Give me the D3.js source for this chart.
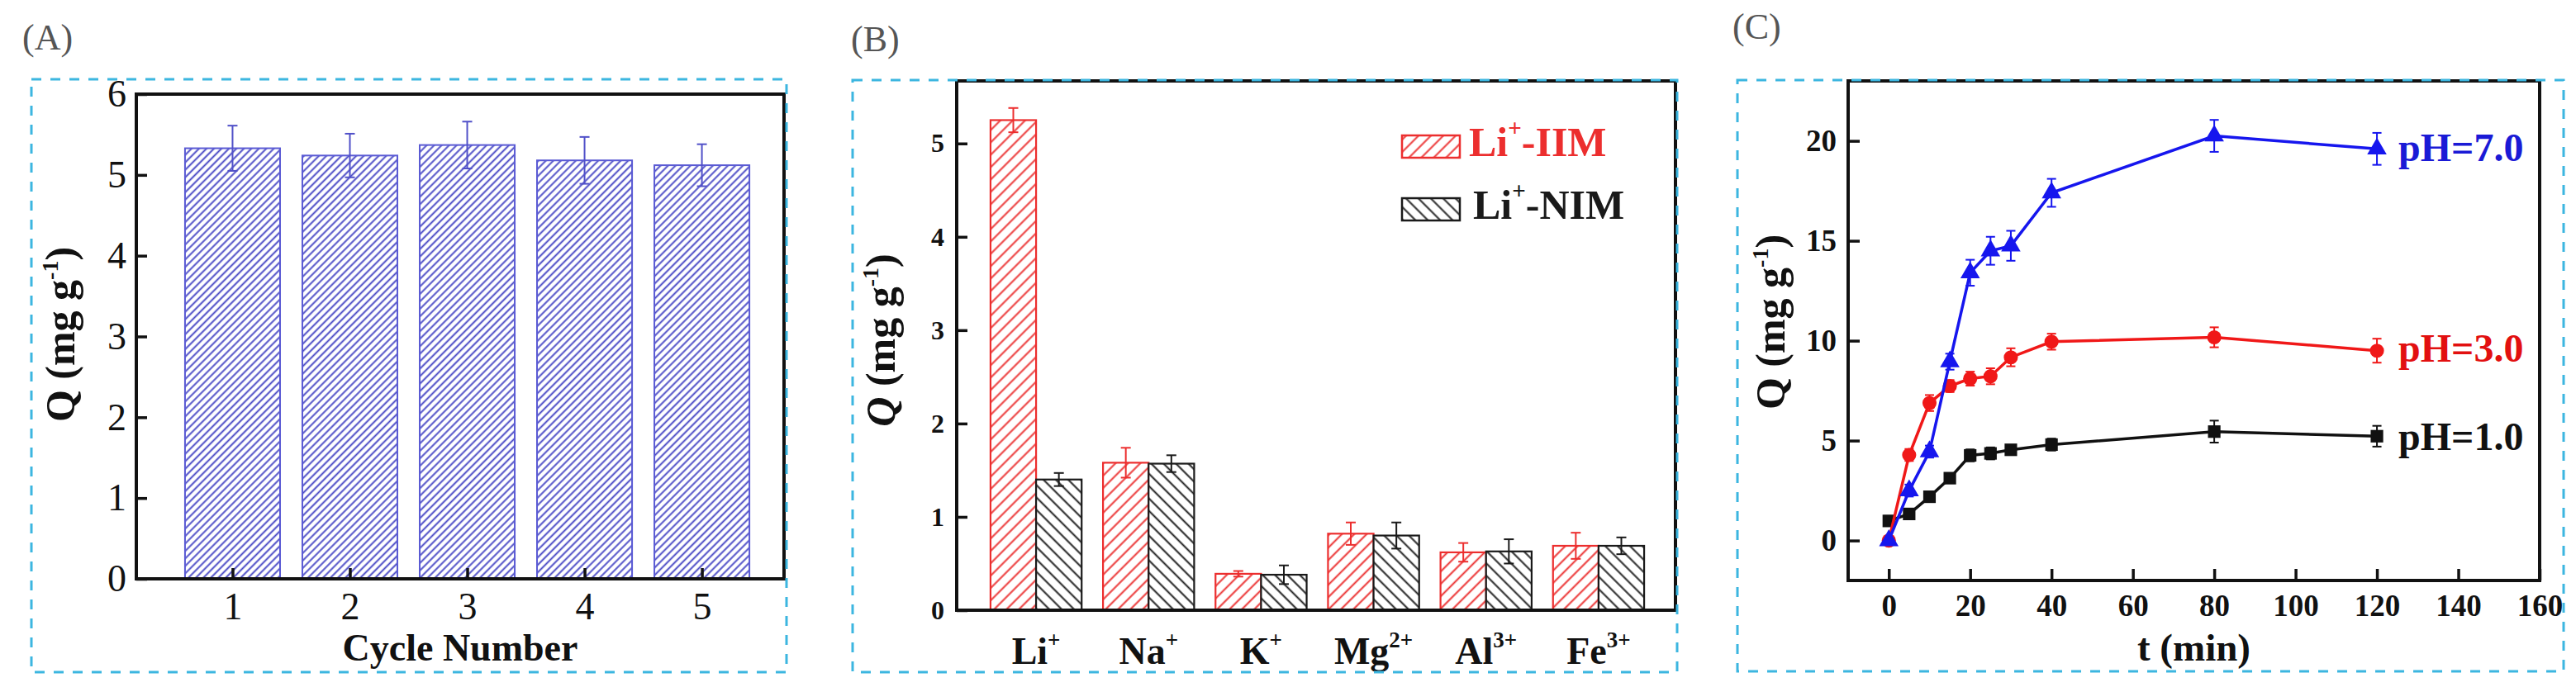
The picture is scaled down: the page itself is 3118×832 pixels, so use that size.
<!DOCTYPE html>
<html>
<head>
<meta charset="utf-8">
<script src="https://cdn.jsdelivr.net/npm/d3@7"></script>
<style>
  body { margin: 0; background: #fff; }
  text { font-family: "Liberation Serif", "Times New Roman", serif; }
</style>
</head>
<body>
<svg id="fig" width="3118" height="832"></svg>
<script>
// ---------- data ----------

// (A) uptake over repeated adsorption cycles
const cycles = [1, 2, 3, 4, 5];
const cycleQ = [5.33, 5.24, 5.37, 5.18, 5.12];
const cycleErr = [0.28, 0.27, 0.29, 0.29, 0.26];
const cycleTicksY = [0, 1, 2, 3, 4, 5, 6];

// (B) competitive adsorption, imprinted vs non imprinted membrane
const ions = ['Li', 'Na', 'K', 'Mg', 'Al', 'Fe'];
const ionCharges = ['+', '+', '+', '2+', '3+', '3+'];
const membranes = ['IIM', 'NIM'];
const iimQ = [5.25, 1.58, 0.39, 0.82, 0.62, 0.69];
const iimErr = [0.13, 0.16, 0.03, 0.12, 0.10, 0.14];
const nimQ = [1.40, 1.57, 0.38, 0.80, 0.63, 0.69];
const nimErr = [0.07, 0.09, 0.10, 0.14, 0.13, 0.09];
const ionTicksY = [0, 1, 2, 3, 4, 5];

// (C) kinetics at three pH values
const times = [0, 5, 10, 15, 20, 25, 30, 40, 80, 120];
const qPH1 = [0.98, 1.33, 2.19, 3.12, 4.26, 4.36, 4.54, 4.80, 5.45, 5.22];
const errPH1 = [0.25, 0.15, 0.15, 0.15, 0.30, 0.30, 0.20, 0.30, 0.55, 0.52];
const qPH3 = [0.0, 4.28, 6.88, 7.73, 8.10, 8.22, 9.17, 9.95, 10.17, 9.50];
const errPH3 = [0.10, 0.30, 0.40, 0.30, 0.35, 0.40, 0.45, 0.40, 0.50, 0.60];
const qPH7 = [0.0, 2.50, 4.45, 8.95, 13.4, 14.5, 14.75, 17.4, 20.25, 19.6];
const errPH7 = [0.10, 0.30, 0.30, 0.40, 0.65, 0.70, 0.75, 0.70, 0.80, 0.80];
const phLabels = ['pH=1.0', 'pH=3.0', 'pH=7.0'];
const timeTicks = [0, 20, 40, 60, 80, 100, 120, 140, 160];
const kineticTicksY = [0, 5, 10, 15, 20];

// ---------- shared helpers ----------

const svg = d3.select('#fig');
svg.append('rect').attr('width', 3118).attr('height', 832).attr('fill', '#fff');
const defs = svg.append('defs');

/** hatch fill: parallel lines, rotated so 45 gives "/" and -45 gives "\" */
function hatch(id, color, gap, angle, width) {
    let p = defs.append('pattern')
        .attr('id', id)
        .attr('patternUnits', 'userSpaceOnUse')
        .attr('width', gap).attr('height', gap)
        .attr('patternTransform', `rotate(${angle})`);
    p.append('rect').attr('width', gap).attr('height', gap).attr('fill', '#fff');
    p.append('line')
        .attr('x1', gap / 2).attr('x2', gap / 2)
        .attr('y1', -1).attr('y2', gap + 1)
        .attr('stroke', color).attr('stroke-width', width);
}
hatch('hatchBlue', '#4646c4', 6.4, 45, 1.9);
hatch('hatchRed', '#ec3434', 10.6, 45, 2);
hatch('hatchBlack', '#222', 10.6, -45, 2);

/** cyan dashed outline round a panel */
function dashedBox(b) {
    svg.append('rect')
        .attr('x', b[0]).attr('y', b[1])
        .attr('width', b[2] - b[0]).attr('height', b[3] - b[1])
        .attr('fill', 'none')
        .attr('stroke', '#3cb6e0')
        .attr('stroke-width', 3)
        .attr('stroke-dasharray', '12 11');
}

function frame(f) {
    svg.append('rect')
        .attr('x', f[0]).attr('y', f[1])
        .attr('width', f[2] - f[0]).attr('height', f[3] - f[1])
        .attr('fill', 'none')
        .attr('stroke', '#111')
        .attr('stroke-width', 4);
}

function panelLetter(txt, x, y) {
    svg.append('text')
        .attr('x', x).attr('y', y)
        .attr('font-size', 44)
        .attr('fill', '#555')
        .text(txt);
}

/** style a d3 axis group: drop the domain path, thick inward ticks, serif labels */
function styleAxis(g, size, bold) {
    g.select('.domain').remove();
    g.attr('font-family', null).attr('font-size', null);
    g.selectAll('.tick line').attr('stroke', '#111').attr('stroke-width', 3.5);
    g.selectAll('.tick text')
        .attr('fill', '#111')
        .attr('font-size', size)
        .attr('font-weight', bold ? 'bold' : 'normal');
}

/** rotated "Q (mg g-1)" label */
function yLabel(x, y, italicQ) {
    let t = svg.append('text')
        .attr('transform', `translate(${x},${y}) rotate(-90)`)
        .attr('text-anchor', 'middle')
        .attr('font-size', 50)
        .attr('font-weight', 'bold')
        .attr('fill', '#111');
    t.append('tspan').attr('font-style', italicQ ? 'italic' : 'normal').text('Q');
    t.append('tspan').text(' (mg g');
    t.append('tspan').attr('font-size', 28).attr('dy', -20).text('-1');
    t.append('tspan').attr('dy', 20).text(')');
}

function errorBars(g, data, color, cap, width) {
    let eb = g.selectAll(null)
        .data(data)
        .enter().append('g')
        .attr('stroke', color)
        .attr('stroke-width', width);
    eb.append('line')
        .attr('x1', d => d.x).attr('x2', d => d.x)
        .attr('y1', d => d.top).attr('y2', d => d.bottom);
    eb.append('line')
        .attr('x1', d => d.x - cap / 2).attr('x2', d => d.x + cap / 2)
        .attr('y1', d => d.top).attr('y2', d => d.top);
    eb.append('line')
        .attr('x1', d => d.x - cap / 2).attr('x2', d => d.x + cap / 2)
        .attr('y1', d => d.bottom).attr('y2', d => d.bottom);
}

// ---------- (A) ----------
function drawCycles() {
    let fr = [165, 114, 949, 701];
    let x = d3.scaleLinear().domain([0.18, 5.7]).range([fr[0], fr[2]]);
    let y = d3.scaleLinear().domain([0, 6]).range([fr[3], fr[1]]);
    let bw = x(0.905) - x(0.095);
    let g = svg.append('g');
    let rows = cycles.map((c, i) => ({ c, v: cycleQ[i], e: cycleErr[i] }));

    g.selectAll('rect.bar')
        .data(rows)
        .enter().append('rect')
        .attr('class', 'bar')
        .attr('x', d => x(d.c) - bw / 2)
        .attr('y', d => y(d.v))
        .attr('width', bw)
        .attr('height', d => y(0) - y(d.v))
        .attr('fill', 'url(#hatchBlue)')
        .attr('stroke', '#5a5ad4')
        .attr('stroke-width', 2);

    errorBars(g, rows.map(d => ({ x: x(d.c), top: y(d.v + d.e), bottom: y(d.v - d.e) })),
        '#5050c8', 12, 2);

    g.append('g')
        .attr('transform', `translate(${fr[0]},0)`)
        .call(d3.axisLeft(y).tickValues(cycleTicksY).tickFormat(d3.format('d')).tickSize(-13).tickPadding(12))
        .call(a => styleAxis(a, 46, false));
    g.append('g')
        .attr('transform', `translate(0,${fr[3]})`)
        .call(d3.axisBottom(x).tickValues(cycles).tickFormat(d3.format('d')).tickSize(-13).tickPadding(16))
        .call(a => styleAxis(a, 46, false));

    frame(fr);
    dashedBox([38, 96, 952, 814]);
    panelLetter('(A)', 27, 60);
    yLabel(90, 405, false);
    svg.append('text')
        .attr('x', (fr[0] + fr[2]) / 2).attr('y', 800)
        .attr('text-anchor', 'middle')
        .attr('font-size', 46).attr('font-weight', 'bold')
        .attr('fill', '#111')
        .text('Cycle Number');
}

// ---------- (B) ----------
function drawSelectivity() {
    let fr = [1158, 98, 2028, 739];
    let x0 = d3.scaleBand().domain(ions).range([1186, 2003]).paddingInner(0.19).paddingOuter(0.095);
    let x1 = d3.scaleBand().domain(membranes).range([0, x0.bandwidth()]);
    let y = d3.scaleLinear().domain([0, 5.67]).range([fr[3], fr[1]]);
    let g = svg.append('g');

    let series = [
        { key: 'IIM', q: iimQ, err: iimErr, fill: 'url(#hatchRed)', color: '#ec2e2e' },
        { key: 'NIM', q: nimQ, err: nimErr, fill: 'url(#hatchBlack)', color: '#1a1a1a' },
    ];

    series.forEach(s => {
        let rows = ions.map((ion, i) => ({ ion, v: s.q[i], e: s.err[i] }));
        g.selectAll(null)
            .data(rows)
            .enter().append('rect')
            .attr('x', d => x0(d.ion) + x1(s.key))
            .attr('y', d => y(d.v))
            .attr('width', x1.bandwidth())
            .attr('height', d => y(0) - y(d.v))
            .attr('fill', s.fill)
            .attr('stroke', s.color)
            .attr('stroke-width', 2.2);
        errorBars(g, rows.map(d => ({
            x: x0(d.ion) + x1(s.key) + x1.bandwidth() / 2,
            top: y(d.v + d.e), bottom: y(d.v - d.e)
        })), s.color, 12, 2);
    });

    g.append('g')
        .attr('transform', `translate(${fr[0]},0)`)
        .call(d3.axisLeft(y).tickValues(ionTicksY).tickFormat(d3.format('d')).tickSize(-13).tickPadding(15))
        .call(a => styleAxis(a, 32, true));

    // category labels with charge as superscript
    let labels = svg.append('g').selectAll('text')
        .data(ions.map((ion, i) => ({ ion, charge: ionCharges[i] })))
        .enter().append('text')
        .attr('x', d => x0(d.ion) + x0.bandwidth() / 2)
        .attr('y', 804)
        .attr('text-anchor', 'middle')
        .attr('font-size', 46).attr('font-weight', 'bold')
        .attr('fill', '#111');
    labels.append('tspan').text(d => d.ion);
    labels.append('tspan').attr('font-size', 27).attr('dy', -20).text(d => d.charge);

    // legend
    let leg = svg.append('g');
    series.forEach((s, i) => {
        let top = [164, 240][i];
        leg.append('rect')
            .attr('x', 1697).attr('y', top)
            .attr('width', 70).attr('height', 27)
            .attr('fill', s.fill)
            .attr('stroke', s.color).attr('stroke-width', 2.5);
        let t = leg.append('text')
            .attr('x', 1778 + i * 5).attr('y', top + 25)
            .attr('font-size', 50).attr('font-weight', 'bold')
            .attr('fill', s.color);
        t.append('tspan').text('Li');
        t.append('tspan').attr('font-size', 29).attr('dy', -24).text('+');
        t.append('tspan').attr('dy', 24).text('-' + s.key);
    });

    frame(fr);
    dashedBox([1032, 97, 2030, 814]);
    panelLetter('(B)', 1030, 62);
    yLabel(1083, 412, true);
}

// ---------- (C) ----------
function drawKinetics() {
    let fr = [2237, 98, 3074, 703];
    let x = d3.scaleLinear().domain([-10, 160]).range([fr[0], fr[2]]);
    let y = d3.scaleLinear().domain([-2, 23]).range([fr[3], fr[1]]);
    let g = svg.append('g');

    let series = [
        { q: qPH1, err: errPH1, color: '#111', text: '#111', sym: d3.symbolSquare, size: 230, label: phLabels[0], ly: 545 },
        { q: qPH3, err: errPH3, color: '#f01818', text: '#e21010', sym: d3.symbolCircle, size: 230, label: phLabels[1], ly: 438 },
        { q: qPH7, err: errPH7, color: '#1616ee', text: '#1a1ad6', sym: d3.symbolTriangle, size: 240, label: phLabels[2], ly: 195 },
    ];

    let line = d3.line().x(d => x(d.t)).y(d => y(d.v));

    series.forEach(s => {
        let rows = times.map((t, i) => ({ t, v: s.q[i], e: s.err[i] }));
        g.append('path')
            .datum(rows)
            .attr('d', line)
            .attr('fill', 'none')
            .attr('stroke', s.color)
            .attr('stroke-width', 3.5);
        errorBars(g, rows.map(d => ({ x: x(d.t), top: y(d.v + d.e), bottom: y(d.v - d.e) })),
            s.color, 11, 2);
        g.selectAll(null)
            .data(rows)
            .enter().append('path')
            .attr('transform', d => `translate(${x(d.t)},${y(d.v)})`)
            .attr('d', d3.symbol().type(s.sym).size(s.size))
            .attr('fill', s.color);
        svg.append('text')
            .attr('x', 2903).attr('y', s.ly)
            .attr('font-size', 48).attr('font-weight', 'bold')
            .attr('fill', s.text)
            .text(s.label);
    });

    g.append('g')
        .attr('transform', `translate(${fr[0]},0)`)
        .call(d3.axisLeft(y).tickValues(kineticTicksY).tickSize(-14).tickPadding(14))
        .call(a => styleAxis(a, 37, true));
    g.append('g')
        .attr('transform', `translate(0,${fr[3]})`)
        .call(d3.axisBottom(x).tickValues(timeTicks).tickSize(-14).tickPadding(17))
        .call(a => styleAxis(a, 37, true));

    frame(fr);
    dashedBox([2103, 97, 3103, 813]);
    panelLetter('(C)', 2097, 47);
    yLabel(2160, 390, false);
    svg.append('text')
        .attr('x', (fr[0] + fr[2]) / 2).attr('y', 800)
        .attr('text-anchor', 'middle')
        .attr('font-size', 47).attr('font-weight', 'bold')
        .attr('fill', '#111')
        .text('t (min)');
}

drawCycles();
drawSelectivity();
drawKinetics();
</script>
</body>
</html>
